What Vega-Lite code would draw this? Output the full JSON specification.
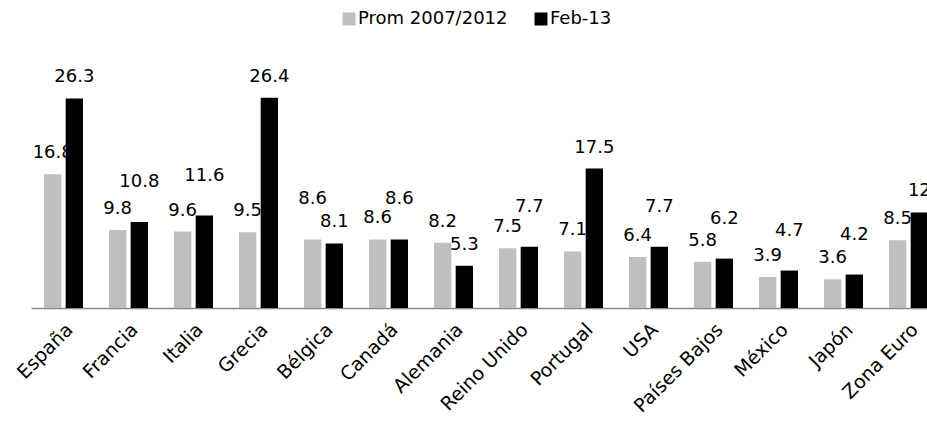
{
  "$schema": "https://vega.github.io/schema/vega-lite/v6.json",
  "autosize": {"type": "none"},
  "padding": {"left": 31, "top": 69, "right": 0, "bottom": 113},
  "width": 896,
  "height": 239,
  "background": "white",
  "data": {
    "values": [
      {"pais": "España", "serie": "Prom 2007/2012", "valor": 16.8},
      {"pais": "España", "serie": "Feb-13", "valor": 26.3},
      {"pais": "Francia", "serie": "Prom 2007/2012", "valor": 9.8},
      {"pais": "Francia", "serie": "Feb-13", "valor": 10.8},
      {"pais": "Italia", "serie": "Prom 2007/2012", "valor": 9.6},
      {"pais": "Italia", "serie": "Feb-13", "valor": 11.6},
      {"pais": "Grecia", "serie": "Prom 2007/2012", "valor": 9.5},
      {"pais": "Grecia", "serie": "Feb-13", "valor": 26.4},
      {"pais": "Bélgica", "serie": "Prom 2007/2012", "valor": 8.6},
      {"pais": "Bélgica", "serie": "Feb-13", "valor": 8.1},
      {"pais": "Canadá", "serie": "Prom 2007/2012", "valor": 8.6},
      {"pais": "Canadá", "serie": "Feb-13", "valor": 8.6},
      {"pais": "Alemania", "serie": "Prom 2007/2012", "valor": 8.2},
      {"pais": "Alemania", "serie": "Feb-13", "valor": 5.3},
      {"pais": "Reino Unido", "serie": "Prom 2007/2012", "valor": 7.5},
      {"pais": "Reino Unido", "serie": "Feb-13", "valor": 7.7},
      {"pais": "Portugal", "serie": "Prom 2007/2012", "valor": 7.1},
      {"pais": "Portugal", "serie": "Feb-13", "valor": 17.5},
      {"pais": "USA", "serie": "Prom 2007/2012", "valor": 6.4},
      {"pais": "USA", "serie": "Feb-13", "valor": 7.7},
      {"pais": "Países Bajos", "serie": "Prom 2007/2012", "valor": 5.8},
      {"pais": "Países Bajos", "serie": "Feb-13", "valor": 6.2},
      {"pais": "México", "serie": "Prom 2007/2012", "valor": 3.9},
      {"pais": "México", "serie": "Feb-13", "valor": 4.7},
      {"pais": "Japón", "serie": "Prom 2007/2012", "valor": 3.6},
      {"pais": "Japón", "serie": "Feb-13", "valor": 4.2},
      {"pais": "Zona Euro", "serie": "Prom 2007/2012", "valor": 8.5},
      {"pais": "Zona Euro", "serie": "Feb-13", "valor": 12}
    ]
  },
  "encoding": {
    "x": {
      "field": "pais",
      "type": "nominal",
      "sort": null,
      "title": null,
      "scale": {"range": [0, 910], "paddingInner": 0.4, "paddingOuter": 0.2},
      "axis": {
        "labelAngle": -45,
        "labelFont": "DejaVu Sans",
        "labelFontSize": 19,
        "labelColor": "#000000",
        "labelPadding": 12,
        "ticks": false,
        "domainColor": "#888888",
        "domainWidth": 1.5,
        "grid": false
      }
    },
    "xOffset": {
      "field": "serie",
      "type": "nominal",
      "scale": {"domain": ["Prom 2007/2012", "Feb-13"], "paddingInner": 0.2}
    },
    "y": {
      "field": "valor",
      "type": "quantitative",
      "scale": {"domain": [0, 30], "nice": false},
      "axis": null
    }
  },
  "layer": [
    {
      "mark": {"type": "bar"},
      "encoding": {
        "color": {
          "field": "serie",
          "type": "nominal",
          "scale": {"domain": ["Prom 2007/2012", "Feb-13"], "range": ["#bfbfbf", "#000000"]},
          "legend": {
            "title": null,
            "orient": "none",
            "direction": "horizontal",
            "legendX": 309,
            "legendY": -59,
            "symbolType": "square",
            "symbolSize": 169,
            "symbolStrokeWidth": 0,
            "labelFont": "DejaVu Sans",
            "labelFontSize": 18,
            "labelColor": "#000000",
            "labelOffset": 0,
            "columnPadding": 24
          }
        }
      }
    },
    {
      "transform": [
        {"joinaggregate": [
          {"op": "max", "field": "valor", "as": "maxGrupo"},
          {"op": "min", "field": "valor", "as": "minGrupo"}
        ], "groupby": ["pais"]},
        {"calculate": "(datum.maxGrupo - datum.minGrupo) < 2.5 && (datum.valor > datum.minGrupo || (datum.maxGrupo == datum.minGrupo && datum.serie == 'Feb-13'))", "as": "elevada"},
        {"filter": "!datum.elevada"}
      ],
      "mark": {
        "type": "text",
        "baseline": "alphabetic",
        "dy": -16,
        "font": "DejaVu Sans",
        "fontSize": 18,
        "color": "#000000"
      },
      "encoding": {
        "text": {"field": "valor", "type": "quantitative"}
      }
    },
    {
      "transform": [
        {"joinaggregate": [
          {"op": "max", "field": "valor", "as": "maxGrupo"},
          {"op": "min", "field": "valor", "as": "minGrupo"}
        ], "groupby": ["pais"]},
        {"calculate": "(datum.maxGrupo - datum.minGrupo) < 2.5 && (datum.valor > datum.minGrupo || (datum.maxGrupo == datum.minGrupo && datum.serie == 'Feb-13'))", "as": "elevada"},
        {"filter": "datum.elevada"}
      ],
      "mark": {
        "type": "text",
        "baseline": "alphabetic",
        "dy": -35,
        "font": "DejaVu Sans",
        "fontSize": 18,
        "color": "#000000"
      },
      "encoding": {
        "text": {"field": "valor", "type": "quantitative"}
      }
    }
  ],
  "config": {
    "view": {"stroke": null}
  }
}
